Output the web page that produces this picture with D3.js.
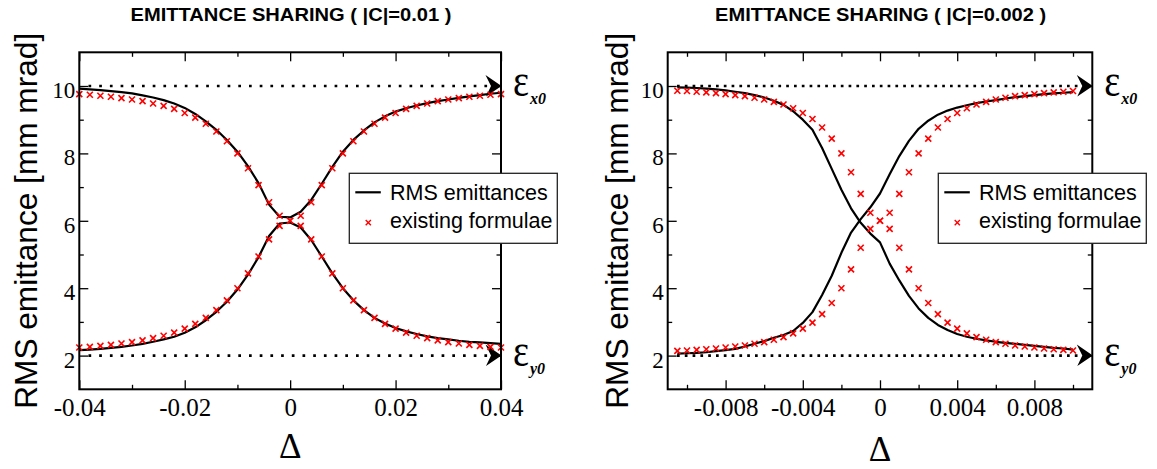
<!DOCTYPE html>
<html>
<head>
<meta charset="utf-8">
<script src="https://d3js.org/d3.v7.min.js"></script>
<style>
  html, body { margin: 0; padding: 0; background: #fff; }
  svg { display: block; }
</style>
</head>
<body>
<div id="chart"></div>
<script>
/**
 * Emittance sharing plots
 * Two panels: RMS emittances (lines) vs existing formulae (crosses)
 */

// ---- data: left panel, |C| = 0.01 ----
const leftTitle = 'EMITTANCE SHARING ( |C|=0.01 )';
const leftDelta = [
  -0.040, -0.038, -0.036, -0.034, -0.032, -0.030, -0.028, -0.026, -0.024, -0.022,
  -0.020, -0.018, -0.016, -0.014, -0.012, -0.010, -0.008, -0.006, -0.004, -0.002,
  0.000, 0.002, 0.004, 0.006, 0.008, 0.010, 0.012, 0.014, 0.016, 0.018,
  0.020, 0.022, 0.024, 0.026, 0.028, 0.030, 0.032, 0.034, 0.036, 0.038, 0.040
];
const leftRmsUpper = [
  9.92, 9.90, 9.88, 9.85, 9.82, 9.78, 9.72, 9.66, 9.58, 9.48,
  9.35, 9.17, 8.95, 8.70, 8.40, 8.05, 7.62, 7.12, 6.48, 6.12,
  6.10, 6.27, 6.62, 7.10, 7.60, 8.05, 8.40, 8.68, 8.92, 9.10,
  9.24, 9.34, 9.42, 9.49, 9.55, 9.60, 9.65, 9.69, 9.73, 9.77, 9.80
];
const leftRmsLower = [
  2.16, 2.18, 2.20, 2.23, 2.26, 2.30, 2.35, 2.41, 2.48, 2.56,
  2.68, 2.84, 3.05, 3.30, 3.60, 3.96, 4.40, 4.92, 5.55, 5.92,
  5.95, 5.80, 5.43, 4.94, 4.44, 4.00, 3.64, 3.35, 3.12, 2.95,
  2.82, 2.72, 2.64, 2.57, 2.52, 2.48, 2.44, 2.41, 2.39, 2.37, 2.35
];
const leftFormulaA = [
  9.76, 9.74, 9.71, 9.68, 9.64, 9.60, 9.55, 9.48, 9.41, 9.32,
  9.20, 9.06, 8.88, 8.65, 8.36, 8.00, 7.56, 7.06, 6.55, 6.15,
  6.00, 5.85, 5.45, 4.94, 4.44, 4.00, 3.64, 3.35, 3.12, 2.94,
  2.80, 2.68, 2.59, 2.52, 2.45, 2.40, 2.36, 2.32, 2.29, 2.26, 2.24
];
const leftFormulaB = [
  2.24, 2.26, 2.29, 2.32, 2.36, 2.40, 2.45, 2.52, 2.59, 2.68,
  2.80, 2.94, 3.12, 3.35, 3.64, 4.00, 4.44, 4.94, 5.45, 5.85,
  6.00, 6.15, 6.55, 7.06, 7.56, 8.00, 8.36, 8.65, 8.88, 9.06,
  9.20, 9.32, 9.41, 9.48, 9.55, 9.60, 9.64, 9.68, 9.71, 9.74, 9.76
];
const leftMajorTicks = [-0.04, -0.02, 0, 0.02, 0.04];
const leftMinorTicks = [-0.03, -0.01, 0.01, 0.03];
const leftTickLabels = ['-0.04', '-0.02', '0', '0.02', '0.04'];

// ---- data: right panel, |C| = 0.002 ----
const rightTitle = 'EMITTANCE SHARING ( |C|=0.002 )';
const rightDelta = [
  -0.0105, -0.0100, -0.0095, -0.0090, -0.0085, -0.0080, -0.0075, -0.0070, -0.0065, -0.0060,
  -0.0055, -0.0050, -0.0045, -0.0040, -0.0035, -0.0030, -0.0025, -0.0020, -0.0015, -0.0010,
  -0.0005, 0.0000, 0.0005, 0.0010, 0.0015, 0.0020, 0.0025, 0.0030, 0.0035, 0.0040,
  0.0045, 0.0050, 0.0055, 0.0060, 0.0065, 0.0070, 0.0075, 0.0080, 0.0085, 0.0090,
  0.0095, 0.0100
];
const rightRmsFalling = [
  9.96, 9.95, 9.94, 9.92, 9.90, 9.87, 9.83, 9.79, 9.73, 9.66,
  9.56, 9.44, 9.25, 9.00, 8.70, 8.16, 7.54, 6.92, 6.37, 5.94,
  5.62, 5.36, 4.73, 4.23, 3.77, 3.40, 3.12, 2.91, 2.76, 2.64,
  2.56, 2.50, 2.45, 2.41, 2.38, 2.35, 2.32, 2.29, 2.26, 2.23,
  2.21, 2.18
];
const rightRmsRising = [
  2.06, 2.07, 2.08, 2.10, 2.13, 2.16, 2.20, 2.27, 2.35, 2.43,
  2.53, 2.61, 2.73, 2.97, 3.29, 3.80, 4.37, 5.05, 5.65, 6.05,
  6.40, 6.81, 7.38, 7.92, 8.37, 8.73, 8.97, 9.15, 9.27, 9.36,
  9.43, 9.49, 9.54, 9.58, 9.63, 9.67, 9.70, 9.73, 9.76, 9.78,
  9.80, 9.82
];
const rightFormulaA = [
  9.86, 9.85, 9.83, 9.81, 9.79, 9.76, 9.73, 9.70, 9.65, 9.60,
  9.53, 9.45, 9.34, 9.20, 9.02, 8.77, 8.44, 8.00, 7.44, 6.80,
  6.24, 6.00, 5.76, 5.20, 4.56, 4.00, 3.56, 3.23, 2.98, 2.80,
  2.66, 2.55, 2.47, 2.40, 2.35, 2.30, 2.27, 2.24, 2.21, 2.19,
  2.17, 2.15
];
const rightFormulaB = [
  2.14, 2.15, 2.17, 2.19, 2.21, 2.24, 2.27, 2.30, 2.35, 2.40,
  2.47, 2.55, 2.66, 2.80, 2.98, 3.23, 3.56, 4.00, 4.56, 5.20,
  5.76, 6.00, 6.24, 6.80, 7.44, 8.00, 8.44, 8.77, 9.02, 9.20,
  9.34, 9.45, 9.53, 9.60, 9.65, 9.70, 9.73, 9.76, 9.79, 9.81,
  9.83, 9.85
];
const rightMajorTicks = [-0.008, -0.004, 0, 0.004, 0.008];
const rightMinorTicks = [-0.010, -0.006, -0.002, 0.002, 0.006, 0.010];
const rightTickLabels = ['-0.008', '-0.004', '0', '0.004', '0.008'];

// ---- shared ----
const yMajorTicks = [2, 4, 6, 8, 10];
const yMinorTicks = [3, 5, 7, 9];
const yTickLabels = ['2', '4', '6', '8', '10'];
const yAxisTitle = 'RMS emittance  [mm mrad]';
const xAxisTitle = 'Δ';
const legendLabels = ['RMS emittances', 'existing formulae'];
const asymptotes = [
  { value: 10, sub: 'x0' },
  { value: 2, sub: 'y0' }
];

const SERIF = '"Liberation Serif"';
const SANS = '"Liberation Sans"';

class EmittancePanel {
  constructor(svg, cfg) {
    this.svg = svg;
    this.cfg = cfg;
    this.g = svg.append('g');

    this.x = d3.scaleLinear().domain(cfg.xDomain).range([cfg.left, cfg.right]);
    this.y = d3.scaleLinear().domain([1, 11]).range([cfg.bottom, cfg.top]);

    this.drawAsymptotes();
    this.drawCurves();
    this.drawCrosses();
    this.drawAxes();
    this.drawFrame();
    this.drawLegend();
    this.drawLabels();
  }

  drawAsymptotes() {
    const { cfg, y } = this;
    asymptotes.forEach(a => {
      const yy = y(a.value);
      this.g.append('line')
        .attr('x1', cfg.dotStart)
        .attr('x2', cfg.right - 10)
        .attr('y1', yy)
        .attr('y2', yy)
        .attr('stroke', '#000')
        .attr('stroke-width', 2.7)
        .attr('stroke-dasharray', `2.7,${cfg.dotGap}`);

      // filled arrow head, tip on the right frame
      this.g.append('path')
        .attr('d', 'M0,0 L-16,-11 L-10.5,0 L-15.5,10.5 Z')
        .attr('transform', `translate(${cfg.right + 0.5},${yy})`)
        .attr('fill', '#000');

      this.g.append('text')
        .attr('x', cfg.right + 12)
        .attr('y', yy + 10)
        .style('font-family', SERIF)
        .style('font-size', '46px')
        .attr('textLength', 16)
        .attr('lengthAdjust', 'spacingAndGlyphs')
        .text('ε');

      this.g.append('text')
        .attr('x', cfg.right + 29)
        .attr('y', yy + 18)
        .style('font-family', SERIF)
        .style('font-size', '16px')
        .style('font-style', 'italic')
        .style('font-weight', 'bold')
        .text(a.sub);
    });
  }

  drawCurves() {
    const { cfg, x, y } = this;
    const line = d3.line()
      .x((d, i) => x(cfg.delta[i]))
      .y(d => y(d));

    cfg.rms.forEach(series => {
      this.g.append('path')
        .datum(series)
        .attr('d', line)
        .attr('fill', 'none')
        .attr('stroke', '#000')
        .attr('stroke-width', 2.2)
        .attr('stroke-linejoin', 'round');
    });
  }

  drawCrosses() {
    const { cfg, x, y } = this;
    const pts = [];
    cfg.formula.forEach(series => {
      series.forEach((v, i) => pts.push([cfg.delta[i], v]));
    });

    this.g.append('g')
      .selectAll('path')
      .data(pts)
      .enter()
      .append('path')
      .attr('d', d => {
        const px = x(d[0]), py = y(d[1]), r = 3;
        return `M${px - r},${py - r}L${px + r},${py + r}M${px - r},${py + r}L${px + r},${py - r}`;
      })
      .attr('stroke', '#ff0000')
      .attr('stroke-width', 1.6);
  }

  drawAxes() {
    const { cfg, x, y } = this;
    const tickStyle = sel => {
      sel.select('.domain').remove();
      sel.selectAll('line').attr('stroke', '#000').attr('stroke-width', 1.3);
    };

    // bottom, labelled
    this.g.append('g')
      .attr('transform', `translate(0,${cfg.bottom})`)
      .call(d3.axisBottom(x).tickValues(cfg.xMajor).tickSize(-9).tickSizeOuter(0)
        .tickPadding(9).tickFormat((d, i) => cfg.xLabels[i]))
      .call(tickStyle)
      .selectAll('text')
      .style('font-family', SERIF)
      .style('font-size', '25px')
      .attr('fill', '#000');

    this.g.append('g')
      .attr('transform', `translate(0,${cfg.bottom})`)
      .call(d3.axisBottom(x).tickValues(cfg.xMinor).tickSize(-4.5).tickSizeOuter(0).tickFormat(''))
      .call(tickStyle);

    // top, mirrored
    this.g.append('g')
      .attr('transform', `translate(0,${cfg.top})`)
      .call(d3.axisTop(x).tickValues(cfg.xMajor).tickSize(-9).tickSizeOuter(0).tickFormat(''))
      .call(tickStyle);

    this.g.append('g')
      .attr('transform', `translate(0,${cfg.top})`)
      .call(d3.axisTop(x).tickValues(cfg.xMinor).tickSize(-4.5).tickSizeOuter(0).tickFormat(''))
      .call(tickStyle);

    // left, labelled
    this.g.append('g')
      .attr('transform', `translate(${cfg.left},0)`)
      .call(d3.axisLeft(y).tickValues(yMajorTicks).tickSize(-9).tickSizeOuter(0)
        .tickPadding(4).tickFormat((d, i) => yTickLabels[i]))
      .call(tickStyle)
      .selectAll('text')
      .style('font-family', SERIF)
      .style('font-size', '23px')
      .attr('dy', '0.5em')
      .attr('fill', '#000');

    this.g.append('g')
      .attr('transform', `translate(${cfg.left},0)`)
      .call(d3.axisLeft(y).tickValues(yMinorTicks).tickSize(-4.5).tickSizeOuter(0).tickFormat(''))
      .call(tickStyle);

    // right, mirrored
    this.g.append('g')
      .attr('transform', `translate(${cfg.right},0)`)
      .call(d3.axisRight(y).tickValues(yMajorTicks).tickSize(-9).tickSizeOuter(0).tickFormat(''))
      .call(tickStyle);

    this.g.append('g')
      .attr('transform', `translate(${cfg.right},0)`)
      .call(d3.axisRight(y).tickValues(yMinorTicks).tickSize(-4.5).tickSizeOuter(0).tickFormat(''))
      .call(tickStyle);
  }

  drawFrame() {
    const { cfg } = this;
    this.g.append('rect')
      .attr('x', cfg.left)
      .attr('y', cfg.top)
      .attr('width', cfg.right - cfg.left)
      .attr('height', cfg.bottom - cfg.top)
      .attr('fill', 'none')
      .attr('stroke', '#000')
      .attr('stroke-width', 2);
  }

  drawLegend() {
    const { cfg } = this;
    const lg = this.g.append('g')
      .attr('transform', `translate(${cfg.legendX},173.3)`);

    lg.append('rect')
      .attr('width', 208)
      .attr('height', 70)
      .attr('fill', '#fff')
      .attr('stroke', '#222')
      .attr('stroke-width', 1.3);

    lg.append('line')
      .attr('x1', 6).attr('x2', 31.5)
      .attr('y1', 19).attr('y2', 19)
      .attr('stroke', '#000')
      .attr('stroke-width', 2.2);

    const r = 2.6, cx = 19, cy = 49.4;
    lg.append('path')
      .attr('d', `M${cx - r},${cy - r}L${cx + r},${cy + r}M${cx - r},${cy + r}L${cx + r},${cy - r}`)
      .attr('stroke', '#ff0000')
      .attr('stroke-width', 1.4);

    lg.selectAll('text.item')
      .data(legendLabels)
      .enter()
      .append('text')
      .attr('class', 'item')
      .attr('x', 40.7)
      .attr('y', (d, i) => 26.7 + i * 28.3)
      .style('font-family', SANS)
      .style('font-size', '21.5px')
      .attr('fill', '#000')
      .text(d => d);
  }

  drawLabels() {
    const { cfg } = this;
    const midX = (cfg.left + cfg.right) / 2;
    const midY = (cfg.top + cfg.bottom) / 2;

    // no narrow face installed, so squeeze the bold sans to the original width
    this.svg.append('text')
      .attr('x', cfg.titleX)
      .attr('y', 20.5)
      .attr('text-anchor', 'middle')
      .style('font-family', SANS)
      .style('font-weight', 'bold')
      .style('font-size', '18px')
      .attr('textLength', cfg.titleLen)
      .attr('lengthAdjust', 'spacingAndGlyphs')
      .text(cfg.title);

    this.svg.append('text')
      .attr('transform', `translate(${cfg.yLabelX},${midY}) rotate(-90)`)
      .attr('text-anchor', 'middle')
      .style('font-family', SANS)
      .style('font-size', '32px')
      .attr('textLength', 376)
      .attr('lengthAdjust', 'spacingAndGlyphs')
      .text(yAxisTitle);

    this.svg.append('text')
      .attr('x', midX)
      .attr('y', cfg.deltaY)
      .attr('text-anchor', 'middle')
      .style('font-family', SERIF)
      .style('font-size', '35px')
      .text(xAxisTitle);
  }
}

const svg = d3.select('#chart')
  .append('svg')
  .attr('width', 1157)
  .attr('height', 469);

new EmittancePanel(svg, {
  left: 79.3, right: 501, top: 52.3, bottom: 389.3,
  xDomain: [-0.04, 0.04],
  xMajor: leftMajorTicks, xMinor: leftMinorTicks, xLabels: leftTickLabels,
  delta: leftDelta,
  rms: [leftRmsUpper, leftRmsLower],
  formula: [leftFormulaA, leftFormulaB],
  title: leftTitle, titleX: 291, titleLen: 321,
  yLabelX: 37, deltaY: 458,
  legendX: 349.3,
  dotStart: 88.5, dotGap: 8
});

new EmittancePanel(svg, {
  left: 667.7, right: 1092.3, top: 52.3, bottom: 389.3,
  xDomain: [-0.011, 0.011],
  xMajor: rightMajorTicks, xMinor: rightMinorTicks, xLabels: rightTickLabels,
  delta: rightDelta,
  rms: [rightRmsFalling, rightRmsRising],
  formula: [rightFormulaA, rightFormulaB],
  title: rightTitle, titleX: 880.6, titleLen: 331,
  yLabelX: 628, deltaY: 461,
  legendX: 938.3,
  dotStart: 677, dotGap: 5.1
});
</script>
</body>
</html>
